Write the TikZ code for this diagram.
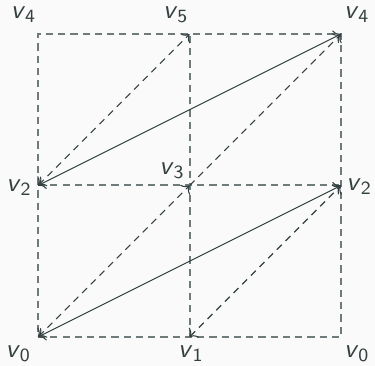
\documentclass[tikz,border=0pt]{standalone}
\usepackage{tikz}
\usetikzlibrary{arrows.meta, positioning, backgrounds}
\usepackage{xcolor}
\definecolor{gridgray}{HTML}{6F7B7B}
\definecolor{edgedark}{HTML}{33403F}
\definecolor{paper}{HTML}{FAFAFA}
\newcommand{\vlab}[1]{\textsf{\itshape v}\textsubscript{\textsf{#1}}}

\begin{document}
\begin{tikzpicture}[
    gridline/.style={draw=gridgray, line width=0.75pt, dash pattern=on 2.7pt off 1.9pt},
    edge/.style={draw=edgedark, line width=0.4pt, <->},
    dashedge/.style={edge, dash pattern=on 2.6pt off 2pt},
    lab/.style={text=edgedark, inner sep=0pt, font=\normalsize}
]
    \useasboundingbox[fill=paper] (-0.502,-0.383) rectangle (4.449,4.449);
    % vertices
    \coordinate (a0) at (0,0);
    \coordinate (b1) at (2,0);
    \coordinate (c0) at (4,0);
    \coordinate (a2) at (0,2);
    \coordinate (b3) at (2,2);
    \coordinate (c2) at (4,2);
    \coordinate (a4) at (0,4);
    \coordinate (b5) at (2,4);
    \coordinate (c4) at (4,4);
    % labels
    \node[lab] (la4) at (-0.19,4.25) {\vlab{4}};
    \node[lab] (lb5) at (1.82,4.25) {\vlab{5}};
    \node[lab] (lc4) at (4.21,4.25) {\vlab{4}};
    \node[lab] (la2) at (-0.25,1.97) {\vlab{2}};
    \node[lab] (lb3) at (1.77,2.19) {\vlab{3}};
    \node[lab] (lc2) at (4.24,1.99) {\vlab{2}};
    \node[lab] (la0) at (-0.26,-0.22) {\vlab{0}};
    \node[lab] (lb1) at (2.02,-0.22) {\vlab{1}};
    \node[lab] (lc0) at (4.21,-0.22) {\vlab{0}};
    % square and midlines
    \draw[gridline] (a0) -- (b1) -- (c0) -- (c2) -- (c4) -- (b5) -- (a4) -- (a2) -- cycle;
    \draw[gridline] (b1) -- (b3) -- (b5);
    \draw[gridline] (a2) -- (b3) -- (c2);
    % diagonals
    \draw[edge] (a0) -- (c2);
    \draw[edge] (a2) -- (c4);
    \draw[dashedge] (a0) -- (b3);
    \draw[dashedge, ->] (b3) -- (c4);
    \draw[dashedge] (b1) -- (c2);
    \draw[dashedge] (a2) -- (b5);
\end{tikzpicture}
\end{document}
